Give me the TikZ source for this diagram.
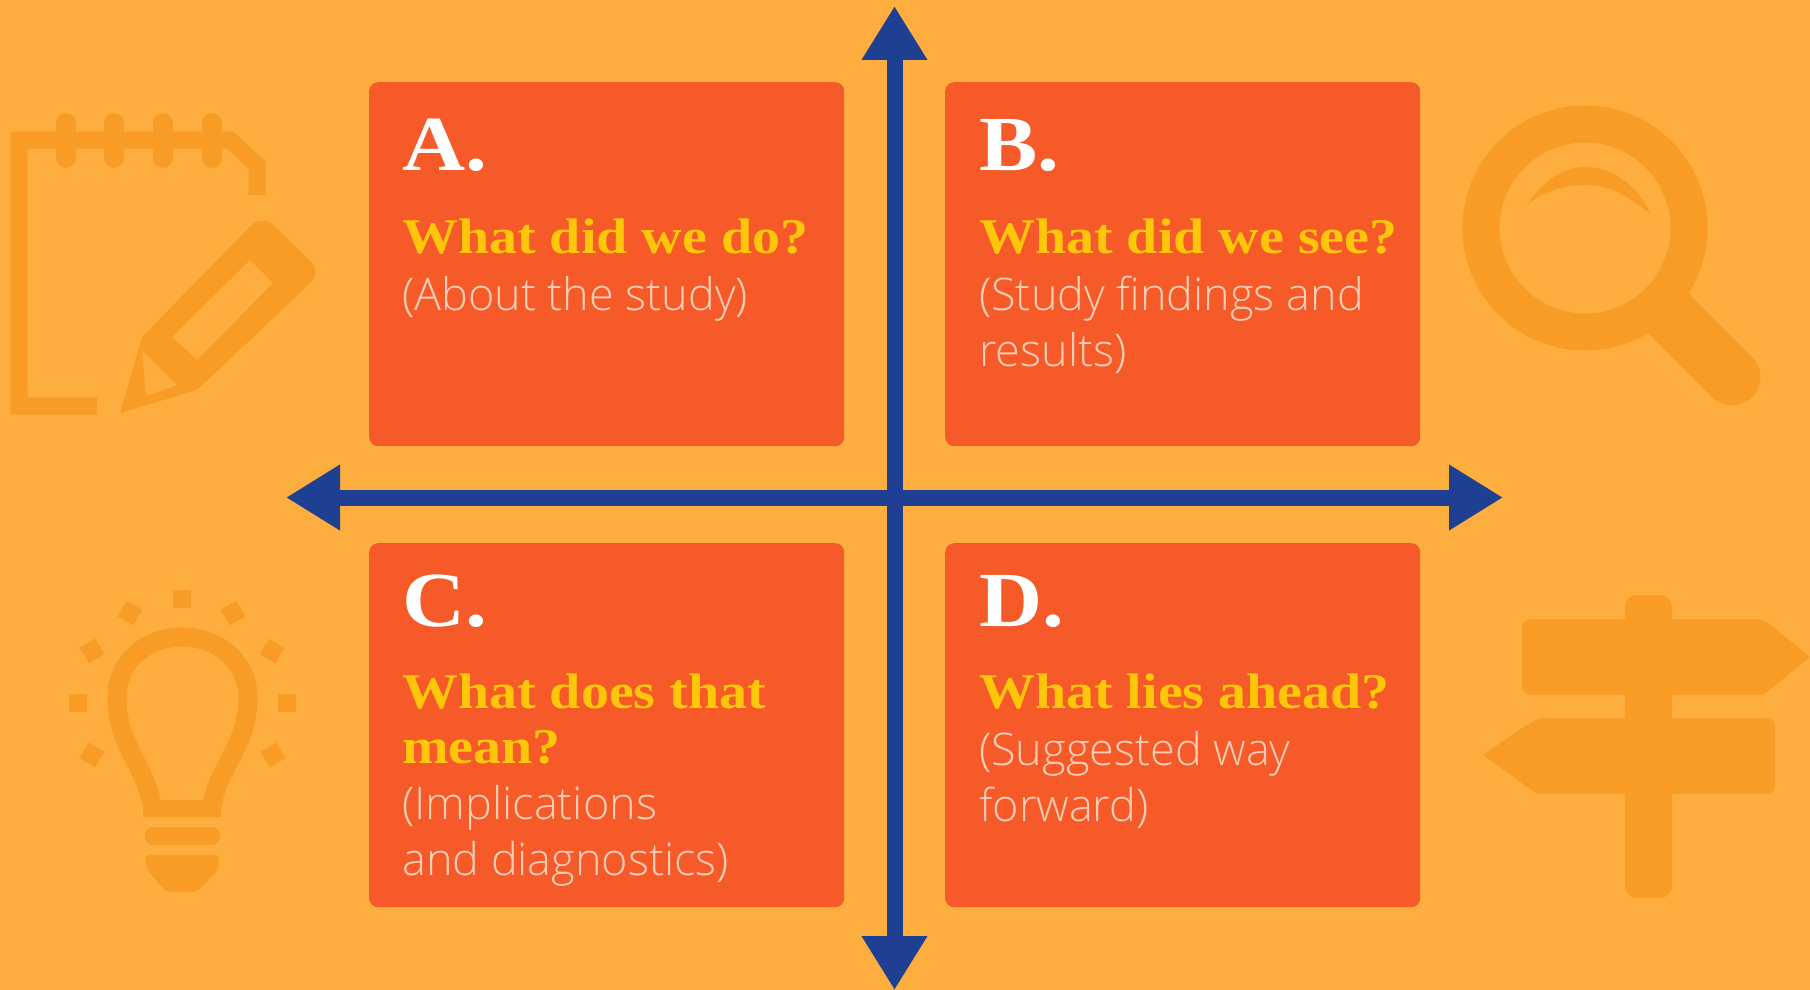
\documentclass[tikz,border=0pt]{standalone}
\usepackage{fontspec}
\usetikzlibrary{arrows.meta}
\setmainfont{Liberation Serif}
\newfontfamily\headfont[FakeStretch=1.12]{Liberation Serif}
\newfontfamily\subfont{Open Sans}[UprightFont=* Light]
\definecolor{bgc}{HTML}{FEAE3F}
\definecolor{boxc}{HTML}{F55A28}
\definecolor{arrc}{HTML}{1F3F92}
\definecolor{iconc}{HTML}{F99C25}
\definecolor{qc}{HTML}{FFC60A}
\definecolor{subc}{HTML}{FBCDB6}
\tikzset{
  card/.style={fill=boxc,rounded corners=9pt,minimum width=475pt,minimum height=364pt,inner sep=0pt,anchor=north west},
  letter/.style={anchor=base west,inner sep=0pt,text=white,font=\fontsize{78}{78}\selectfont\bfseries\headfont},
  ask/.style={anchor=base west,inner sep=0pt,text=qc,align=left,font=\fontsize{50}{55}\selectfont\bfseries\headfont},
  note/.style={anchor=base west,inner sep=0pt,text=subc,align=left,font=\fontsize{45}{56}\selectfont\subfont},
  axis/.style={draw=arrc,line width=16pt,{Triangle[length=54pt,width=62pt,fill=arrc]}-{Triangle[length=54pt,width=62pt,fill=arrc]}},
  iconline/.style={draw=iconc,line width=17pt},
  iconfill/.style={fill=iconc,draw=none}
}
\begin{document}
\begin{tikzpicture}[x=1pt,y=-1pt]
\useasboundingbox (0,0) rectangle (1810,990);
\fill[bgc] (0,0) rectangle (1810,990);

% notebook
\draw[iconline,line join=miter] (97,406) -- (19,406) -- (19,140) -- (230,140) -- (257,165) -- (257,195);
\foreach \rx in {66,114,163,212}{
  \draw[draw=iconc,line width=20pt,line cap=round] (\rx,123) -- (\rx,158);
}
% pencil
\fill[iconfill,even odd rule,rounded corners=3pt]
  (120,413) -- (142,337) [rounded corners=16pt] -- (262,214) -- (322,272) [rounded corners=3pt] -- (197,390) -- cycle
  [sharp corners] (250,260) -- (273,283) -- (197,360) -- (172,337) -- cycle
  (142,350) -- (177,385) -- (146,396) -- cycle;

% magnifier
\draw[draw=iconc,line width=37pt] (1585,228) circle[radius=104];
\draw[draw=iconc,line width=57pt,line cap=round] (1665,310) -- (1732,377);
\fill[iconfill] (1527,205) .. controls (1545,178) and (1565,167) .. (1587,167) .. controls (1615,167) and (1640,190) .. (1650,213) .. controls (1625,195) and (1610,185) .. (1587,185) .. controls (1565,185) and (1545,190) .. (1527,205) -- cycle;

% bulb
\draw[draw=iconc,line width=19pt] (152,805) .. controls (145,765) and (117,745) .. (117,698) .. controls (117,660) and (148,637) .. (182,637) .. controls (216,637) and (248,660) .. (248,698) .. controls (248,745) and (219,765) .. (212,805);
\fill[iconfill] (143,800) rectangle (221,817);
\fill[iconfill,rounded corners=8pt] (145,827) rectangle (220,845);
\fill[iconfill,rounded corners=5pt] (145,855) -- (220,855) -- (218,870) -- (197,892) -- (167,892) -- (147,870) -- cycle;
\foreach \rx/\ry/\ra in {182/599/0,130/613/-30,233/613/30,92/651/-60,272/651/60,78/703/0,287/703/0,92/755/60,273/755/-60}{
  \fill[iconfill,rotate around={\ra:(\rx,\ry)}] (\rx-9,\ry-9) rectangle (\rx+9,\ry+9);
}

% signpost
\fill[iconfill,rounded corners=12pt] (1625,595) rectangle (1672,898);
\fill[iconfill,rounded corners=9pt] (1522,619) -- (1763,619) [sharp corners] -- (1810,657) -- (1763,695) [rounded corners=9pt] -- (1522,695) -- cycle;
\fill[iconfill,rounded corners=9pt] (1775,718) -- (1537,718) [sharp corners] -- (1483,755) -- (1537,794) [rounded corners=9pt] -- (1775,794) -- cycle;

% cards
\node[card] (cardA) at (369,82) {};
\node[card] (cardB) at (945,82) {};
\node[card] (cardC) at (369,543) {};
\node[card] (cardD) at (945,543) {};

% axes
\coordinate (top) at (894.5,6);
\coordinate (bottom) at (894.5,990);
\coordinate (left) at (286,497.5);
\coordinate (right) at (1503,497.5);
\draw[axis] (left) -- (right);
\draw[axis] (top) -- (bottom);

% text (multi-line nodes are placed by their last baseline)
\node[letter] (la) at (402,170) {A.};
\node[ask] (qa) at (402,253) {What did we do?};
\node[note] (na) at (402,310) {(About the study)};

\node[letter] (lb) at (979,170) {B.};
\node[ask] (qb) at (979,253) {What did we see?};
\node[note] (nb) at (979,366) {(Study findings and\\results)};

\node[letter] (lc) at (402,626) {C.};
\node[ask] (qc) at (402,763) {What does that\\mean?};
\node[note] (nc) at (402,875) {(Implications\\and diagnostics)};

\node[letter] (ld) at (979,626) {D.};
\node[ask] (qd) at (979,708) {What lies ahead?};
\node[note] (nd) at (979,821) {(Suggested way\\forward)};
\end{tikzpicture}
\end{document}
